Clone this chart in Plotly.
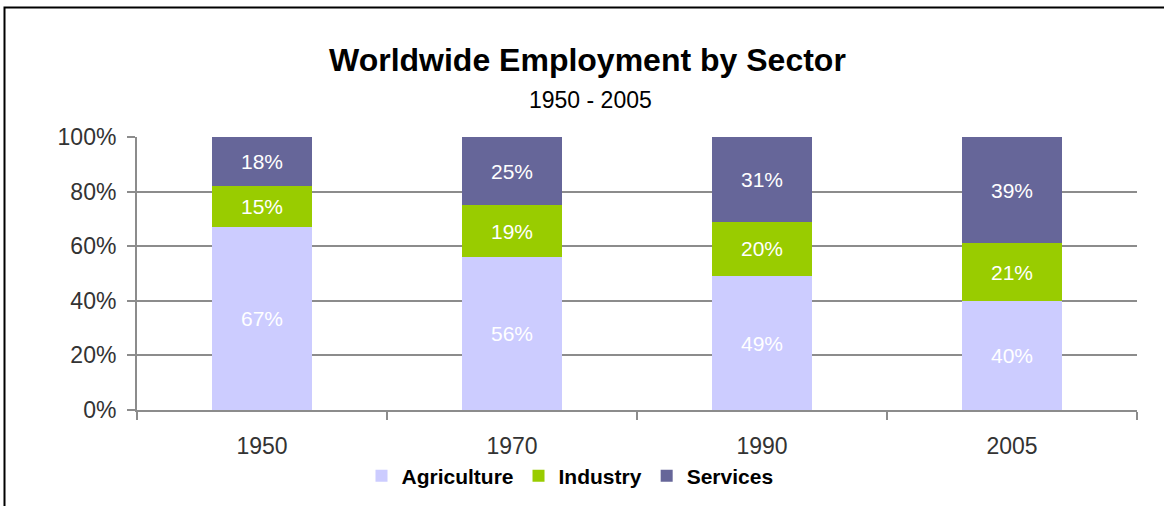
import plotly.graph_objects as go

years = ["1950", "1970", "1990", "2005"]
agriculture = [67, 56, 49, 40]
industry = [15, 19, 20, 21]
services = [18, 25, 31, 39]

series = [
    ("Agriculture", agriculture, "#CCCCFF"),
    ("Industry", industry, "#99CC00"),
    ("Services", services, "#666699"),
]

FONT = "Arial, 'Liberation Sans', sans-serif"

fig = go.Figure()
for name, vals, color in series:
    fig.add_trace(go.Bar(
        name=name, x=years, y=vals,
        marker=dict(color=color, line=dict(width=0)),
        text=[f"{v}%" for v in vals],
        textposition="inside", insidetextanchor="middle",
        textfont=dict(family=FONT, size=21, color="white"),
        constraintext="none",
    ))

L, R, T, B = 137, 27, 137, 96
W, H = 1164, 506
pw, ph = W - L - R, H - T - B

fig.update_layout(
    barmode="stack", bargap=0.6,
    width=W, height=H,
    margin=dict(l=L, r=R, t=T, b=B, autoexpand=False),
    paper_bgcolor="white", plot_bgcolor="white",
    font=dict(family=FONT, color="#333333"),
    showlegend=True,
    legend=dict(orientation="h", x=570 / W, xanchor="center", xref="container",
                y=1 - 476 / H, yanchor="middle", yref="container",
                font=dict(size=21, color="black", weight="bold"),
                traceorder="normal", itemwidth=30),
    annotations=[
        dict(text="<b>Worldwide Employment by Sector</b>", xref="paper", yref="paper",
             x=(587 - L) / pw, y=(410 - 60) / ph, xanchor="center", yanchor="middle",
             showarrow=False, font=dict(size=32, color="black")),
        dict(text="1950 - 2005", xref="paper", yref="paper",
             x=(590 - L) / pw, y=(410 - 100) / ph, xanchor="center", yanchor="middle",
             showarrow=False, font=dict(size=23, color="black")),
    ],
    shapes=[
        dict(type="rect", xref="paper", yref="paper",
             x0=(4.5 - L) / pw, x1=(1200 - L) / pw,
             y0=(410 - 600) / ph, y1=(410 - 7.5) / ph,
             line=dict(color="black", width=2), layer="above"),
    ],
)

fig.update_xaxes(
    type="category", showline=True, linecolor="#8c8c8c", linewidth=2,
    ticks="outside", tickson="boundaries", ticklen=8, tickwidth=2, tickcolor="#8c8c8c",
    tickfont=dict(size=23, color="#333333"), showgrid=False, ticklabelstandoff=14,
    automargin=False,
)
fig.update_yaxes(
    range=[0, 100], dtick=20, ticksuffix="%",
    showline=True, linecolor="#8c8c8c", linewidth=2,
    ticks="outside", ticklen=8, tickwidth=2, tickcolor="#8c8c8c",
    showgrid=True, gridcolor="#8c8c8c", gridwidth=2, zeroline=False,
    tickfont=dict(size=23, color="#333333"), ticklabelstandoff=6,
    automargin=False,
)

fig.write_html("out.html")
